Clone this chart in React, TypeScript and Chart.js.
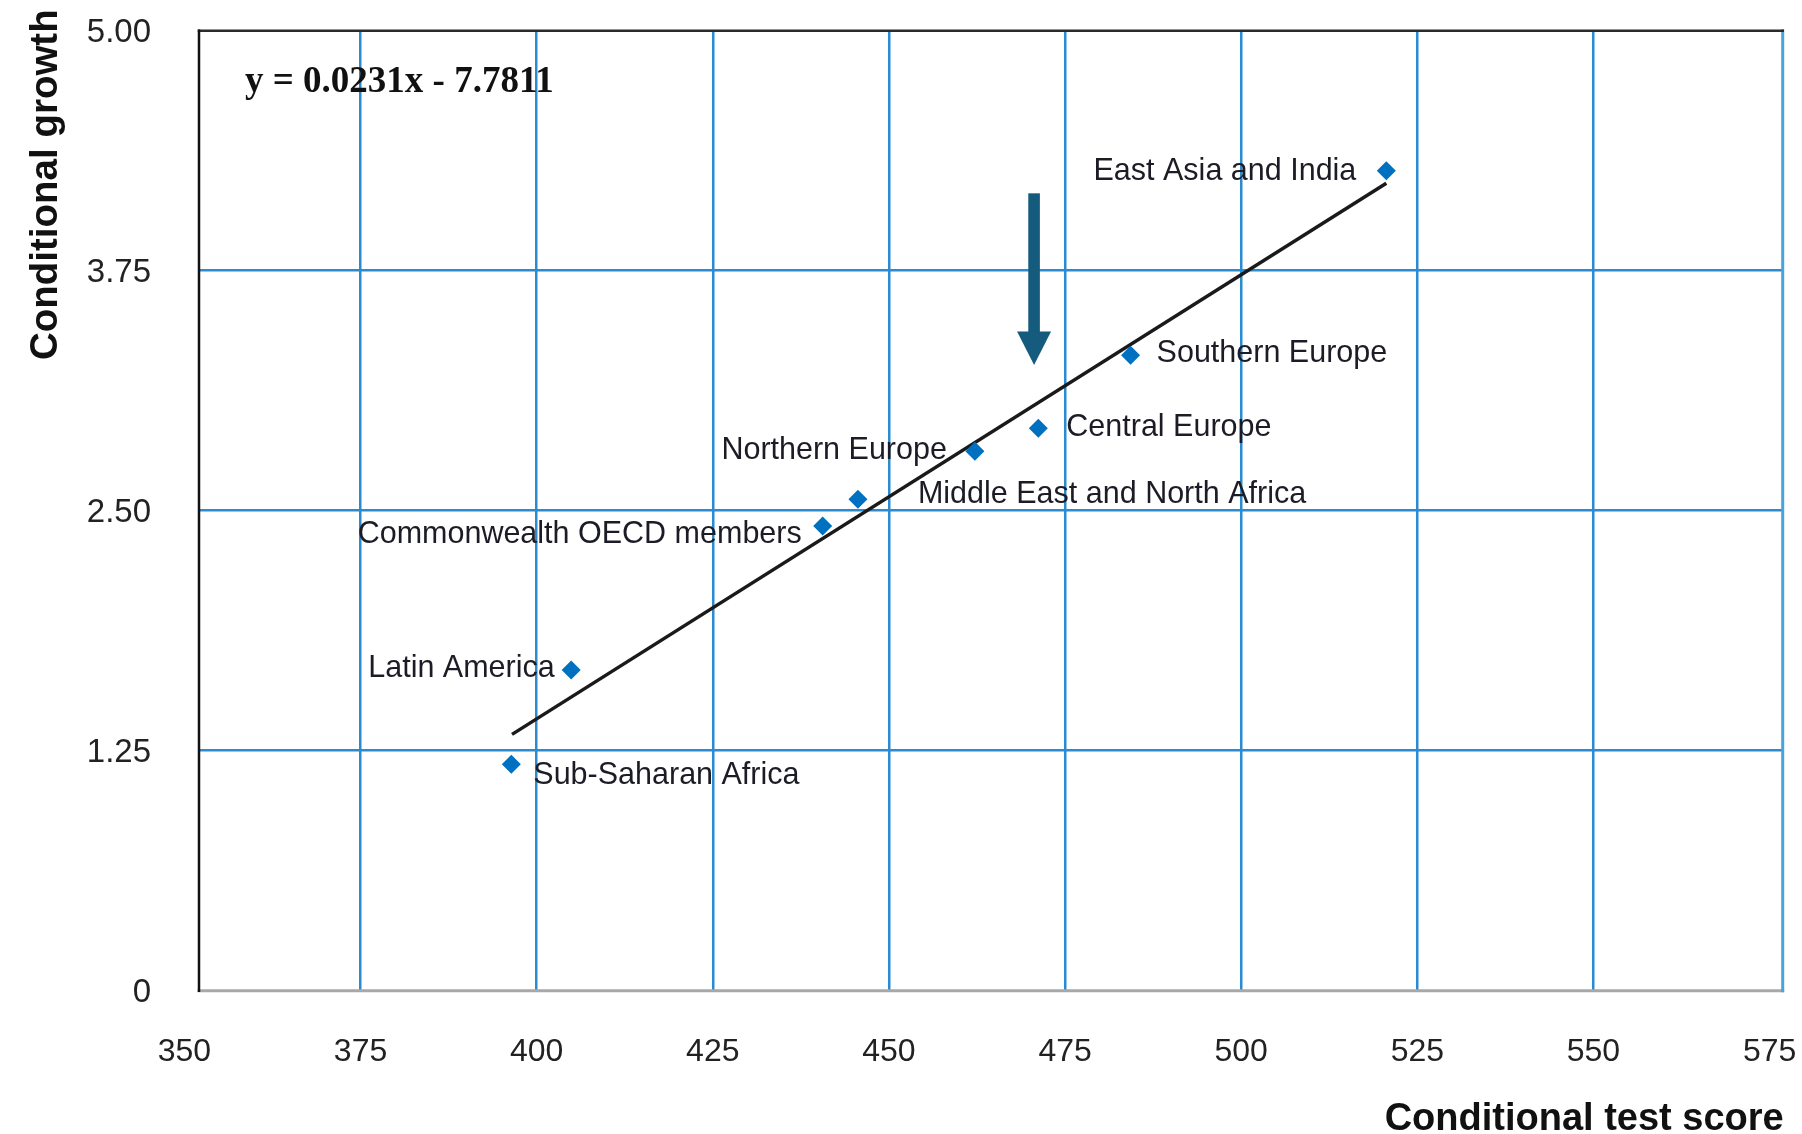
import React, { useEffect, useRef } from 'react';
import { Chart, registerables } from 'chart.js';

Chart.register(...registerables);

// ---------- data ----------
const regions = [
  'East Asia and India',
  'Southern Europe',
  'Central Europe',
  'Northern Europe',
  'Middle East and North Africa',
  'Commonwealth OECD members',
  'Latin America',
  'Sub-Saharan Africa',
];
const testScores = [520.6, 484.3, 471.2, 462.2, 445.6, 440.6, 404.9, 396.4];
const growthRates = [4.27, 3.31, 2.93, 2.81, 2.56, 2.42, 1.67, 1.18];

const trendX = [396.5, 520.6];
const trendY = [1.335, 4.205];

const xTicks = [350, 375, 400, 425, 450, 475, 500, 525, 550, 575];
const yTicks = [0, 1.25, 2.5, 3.75, 5];
const yTickLabels = ['0', '1.25', '2.50', '3.75', '5.00'];
const xRange = [352.07, 576.86];
const yRange = [0, 5];

const arrowX = 470.6;
const arrowFrom = 4.153;
const arrowTo = 3.259;

const equationText = 'y = 0.0231x - 7.7811';
const xTitle = 'Conditional test score';
const yTitle = 'Conditional growth';

// ---------- styles ----------
const GRID = '#2a8bd0';
const POINT = '#0070c0';
const ARROW = '#155b7d';
const TEXT = '#1c1c26';
const SANS = '"Liberation Sans", Arial, sans-serif';

const labelPlacement = [
  { align: 'right', dx: -30, dy: 9.5 },
  { align: 'left', dx: 26, dy: 7 },
  { align: 'left', dx: 28, dy: 7.5 },
  { align: 'right', dx: -28, dy: 8.3 },
  { align: 'left', dx: 60, dy: 3.4 },
  { align: 'right', dx: -21, dy: 16.5 },
  { align: 'right', dx: -16.5, dy: 7.3 },
  { align: 'left', dx: 22, dy: 19.5 },
];

const decorPlugin = {
  id: 'decor',
  beforeDatasetsDraw(chart: any) {
    const { ctx, chartArea: a } = chart;
    ctx.save();
    ctx.lineCap = 'square';
    ctx.strokeStyle = '#a8a8a8';
    ctx.lineWidth = 3;
    ctx.beginPath();
    ctx.moveTo(a.left, a.bottom);
    ctx.lineTo(a.right, a.bottom);
    ctx.stroke();
    ctx.strokeStyle = '#4aa3dc';
    ctx.lineWidth = 3;
    ctx.beginPath();
    ctx.moveTo(a.right, a.top);
    ctx.lineTo(a.right, a.bottom);
    ctx.stroke();
    ctx.strokeStyle = '#2a2a2a';
    ctx.lineWidth = 2.5;
    ctx.beginPath();
    ctx.moveTo(a.left, a.top);
    ctx.lineTo(a.right, a.top);
    ctx.stroke();
    ctx.strokeStyle = '#111';
    ctx.beginPath();
    ctx.moveTo(a.left, a.top);
    ctx.lineTo(a.left, a.bottom);
    ctx.stroke();
    ctx.restore();
  },
  afterDatasetsDraw(chart: any) {
    const { ctx } = chart;
    const xs = chart.scales.x;
    const ys = chart.scales.y;
    ctx.save();
    // point labels
    const meta = chart.getDatasetMeta(1);
    ctx.font = `30.5px ${SANS}`;
    ctx.fillStyle = TEXT;
    ctx.textBaseline = 'alphabetic';
    meta.data.forEach((el: any, i: number) => {
      const p = labelPlacement[i];
      ctx.textAlign = p.align;
      ctx.fillText(regions[i], el.x + p.dx, el.y + p.dy);
    });
    // arrow
    const ax = xs.getPixelForValue(arrowX);
    const ay0 = ys.getPixelForValue(arrowFrom);
    const ay1 = ys.getPixelForValue(arrowTo);
    const headLen = 33.5;
    const headHalf = 17;
    const shaftHalf = 5.8;
    ctx.fillStyle = ARROW;
    ctx.fillRect(ax - shaftHalf, ay0, shaftHalf * 2, ay1 - ay0 - headLen + 1);
    ctx.beginPath();
    ctx.moveTo(ax - headHalf, ay1 - headLen);
    ctx.lineTo(ax + headHalf, ay1 - headLen);
    ctx.lineTo(ax, ay1);
    ctx.closePath();
    ctx.fill();
    // equation
    ctx.font = `bold 37px "Liberation Serif", "Times New Roman", serif`;
    ctx.fillStyle = '#111';
    ctx.textAlign = 'left';
    ctx.fillText(equationText, 245, 91.7);
    // axis titles
    ctx.font = `bold 38px ${SANS}`;
    ctx.fillStyle = '#111';
    ctx.textAlign = 'right';
    ctx.fillText(xTitle, chart.chartArea.right + 1, 1130);
    ctx.save();
    ctx.translate(57.4, 360);
    ctx.rotate(-Math.PI / 2);
    ctx.textAlign = 'left';
    ctx.font = `bold 38.5px ${SANS}`;
    ctx.fillText(yTitle, 0, 0);
    ctx.restore();
    ctx.restore();
  },
};

export default function App() {
  const ref = useRef<HTMLCanvasElement | null>(null);
  useEffect(() => {
    document.body.style.margin = '0';
    const canvas = ref.current;
    if (!canvas) return;
    const chart = new Chart(canvas, {
      type: 'scatter',
      data: {
        datasets: [
          {
            type: 'line',
            label: 'trend',
            data: trendX.map((x, i) => ({ x, y: trendY[i] })),
            borderColor: '#1a1a1a',
            borderWidth: 3.5,
            pointRadius: 0,
            fill: false,
            order: 2,
          } as any,
          {
            label: 'regions',
            data: testScores.map((x, i) => ({ x, y: growthRates[i] })),
            pointStyle: 'rectRot',
            pointRadius: 9.5,
            pointHoverRadius: 9.5,
            backgroundColor: POINT,
            borderColor: POINT,
            borderWidth: 0,
            order: 1,
          },
        ],
      },
      options: {
        animation: false,
        responsive: false,
        devicePixelRatio: 1,
        layout: { autoPadding: false, padding: { top: 30.7, right: 19.3, left: 0, bottom: 0 } },
        plugins: {
          legend: { display: false },
          tooltip: { enabled: false },
          title: { display: false },
        },
        scales: {
          x: {
            type: 'linear',
            min: xRange[0],
            max: xRange[1],
            afterBuildTicks: (axis: any) => {
              axis.ticks = xTicks.map((v) => ({ value: v }));
            },
            afterFit: (s: any) => {
              s.height = 143.3;
              s.paddingLeft = 0;
              s.paddingRight = 0;
              s.paddingTop = 0;
              s.paddingBottom = 0;
            },
            ticks: {
              autoSkip: false,
              maxRotation: 0,
              padding: 41.8,
              color: '#222',
              font: { family: SANS, size: 32 },
              callback: (v: any) => String(v),
            },
            grid: {
              drawTicks: false,
              lineWidth: 2.5,
              color: (c: any) =>
                c.tick && (c.tick.value === 350 || c.tick.value === 575) ? 'rgba(0,0,0,0)' : GRID,
            },
            border: { display: false },
          },
          y: {
            type: 'linear',
            min: yRange[0],
            max: yRange[1],
            afterBuildTicks: (axis: any) => {
              axis.ticks = yTicks.map((v) => ({ value: v }));
            },
            afterFit: (s: any) => {
              s.width = 199;
              s.paddingLeft = 0;
              s.paddingRight = 0;
              s.paddingTop = 0;
              s.paddingBottom = 0;
            },
            ticks: {
              autoSkip: false,
              padding: 48,
              labelOffset: 2.5,
              color: '#222',
              font: { family: SANS, size: 33 },
              callback: (_v: any, i: number) => yTickLabels[i],
            },
            grid: {
              drawTicks: false,
              lineWidth: 2.5,
              color: (c: any) =>
                c.tick && (c.tick.value === 0 || c.tick.value === 5) ? 'rgba(0,0,0,0)' : GRID,
            },
            border: { display: false },
          },
        },
      },
      plugins: [decorPlugin],
    });
    return () => chart.destroy();
  }, []);
  return (
    <div style={{ position: 'fixed', left: 0, top: 0, width: 1802, height: 1134, background: '#fff' }}>
      <canvas ref={ref} width={1802} height={1134} style={{ display: 'block', width: 1802, height: 1134 }} />
    </div>
  );
}
